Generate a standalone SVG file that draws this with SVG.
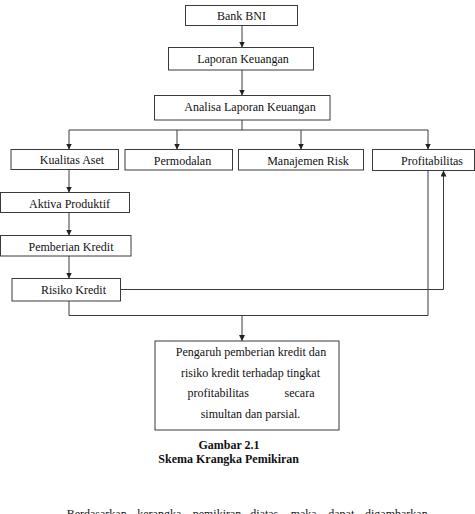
<svg xmlns="http://www.w3.org/2000/svg" width="475" height="514" viewBox="0 0 475 514">
<style>
text{font-family:"Times New Roman","Liberation Serif",Tinos,serif;font-size:12px;fill:#111}
.box{fill:#fff;stroke:#3a3a3a;stroke-width:1}
.t{text-anchor:middle}
.cap{font-weight:bold;text-anchor:middle}
.c{fill:none;stroke:#3a3a3a;stroke-width:1}
</style>
<defs>
<marker id="ah" viewBox="0 0 6 6" refX="6" refY="3" markerWidth="6" markerHeight="6" markerUnits="userSpaceOnUse" orient="auto">
<path d="M0,0 L6,3 L0,6 z" fill="#222"/>
</marker>
</defs>
<rect width="475" height="514" fill="#fff"/>
<g id="connectors">
<line class="c" x1="242" y1="25.5" x2="242" y2="47.5" marker-end="url(#ah)"/>
<line class="c" x1="242" y1="70" x2="242" y2="95.5" marker-end="url(#ah)"/>
<line class="c" x1="242" y1="120" x2="242" y2="130"/>
<line class="c" x1="69" y1="130" x2="428" y2="130"/>
<line class="c" x1="69" y1="130" x2="69" y2="149.5" marker-end="url(#ah)"/>
<line class="c" x1="177" y1="130" x2="177" y2="149.5" marker-end="url(#ah)"/>
<line class="c" x1="301" y1="130" x2="301" y2="149.5" marker-end="url(#ah)"/>
<line class="c" x1="428" y1="130" x2="428" y2="149.5" marker-end="url(#ah)"/>
<line class="c" x1="69" y1="169.5" x2="69" y2="192.5" marker-end="url(#ah)"/>
<line class="c" x1="69" y1="212.5" x2="69" y2="235.5" marker-end="url(#ah)"/>
<line class="c" x1="69" y1="256" x2="69" y2="278.5" marker-end="url(#ah)"/>
<polyline class="c" points="120.5,289.5 443.5,289.5 443.5,170.5" marker-end="url(#ah)"/>
<polyline class="c" points="69,301 69,315.5 428,315.5 428,170.5"/>
<line class="c" x1="242" y1="315.5" x2="242" y2="341" marker-end="url(#ah)"/>
</g>
<g id="bank-bni"><rect class="box" x="185.5" y="5.5" width="112" height="20"/><text class="t" x="241.5" y="20">Bank BNI</text></g>
<g id="laporan-keuangan"><rect class="box" x="168.5" y="47.5" width="145" height="22.5"/><text class="t" x="243" y="62.5">Laporan Keuangan</text></g>
<g id="analisa"><rect class="box" x="154.5" y="95.5" width="175.5" height="24.5"/><text class="t" x="250" y="111">Analisa Laporan Keuangan</text></g>
<g id="kualitas-aset"><rect class="box" x="11" y="149.5" width="107.5" height="20"/><text class="t" x="72" y="164">Kualitas Aset</text></g>
<g id="permodalan"><rect class="box" x="125" y="149.5" width="107.5" height="20.5"/><text class="t" x="182.5" y="164.5">Permodalan</text></g>
<g id="manajemen-risk"><rect class="box" x="238.5" y="149.5" width="125" height="20.5"/><text class="t" x="308" y="164.5">Manajemen Risk</text></g>
<g id="profitabilitas"><rect class="box" x="372.5" y="149.5" width="102" height="21"/><text class="t" x="432" y="165">Profitabilitas</text></g>
<g id="aktiva-produktif"><rect class="box" x="0.5" y="192.5" width="129" height="20"/><text class="t" x="69.5" y="207.5">Aktiva Produktif</text></g>
<g id="pemberian-kredit"><rect class="box" x="0.5" y="235.5" width="130.5" height="20.5"/><text class="t" x="71" y="250.5">Pemberian Kredit</text></g>
<g id="risiko-kredit"><rect class="box" x="12" y="278.5" width="108.5" height="22.5"/><text class="t" x="73.5" y="294">Risiko Kredit</text></g>
<g id="kesimpulan"><rect class="box" x="155" y="341" width="184" height="89"/>
<text class="t" x="251" y="355.5">Pengaruh pemberian kredit dan</text>
<text class="t" x="250.5" y="376.5">risiko kredit terhadap tingkat</text>
<text x="187.5" y="397">profitabilitas</text>
<text x="284.5" y="397">secara</text>
<text class="t" x="250.5" y="418">simultan dan parsial.</text>
</g>
<g id="caption">
<text class="cap" x="229" y="449">Gambar 2.1</text>
<text class="cap" x="228.7" y="463">Skema Krangka Pemikiran</text>
</g>
<g id="body-text">
<text y="518"><tspan x="66.7">Berdasarkan</tspan><tspan x="137.3">kerangka</tspan><tspan x="192.7">pemikiran</tspan><tspan x="250.3">diatas</tspan><tspan x="290.7">maka</tspan><tspan x="328.3">dapat</tspan><tspan x="365">digambarkan</tspan></text>
</g>
</svg>
